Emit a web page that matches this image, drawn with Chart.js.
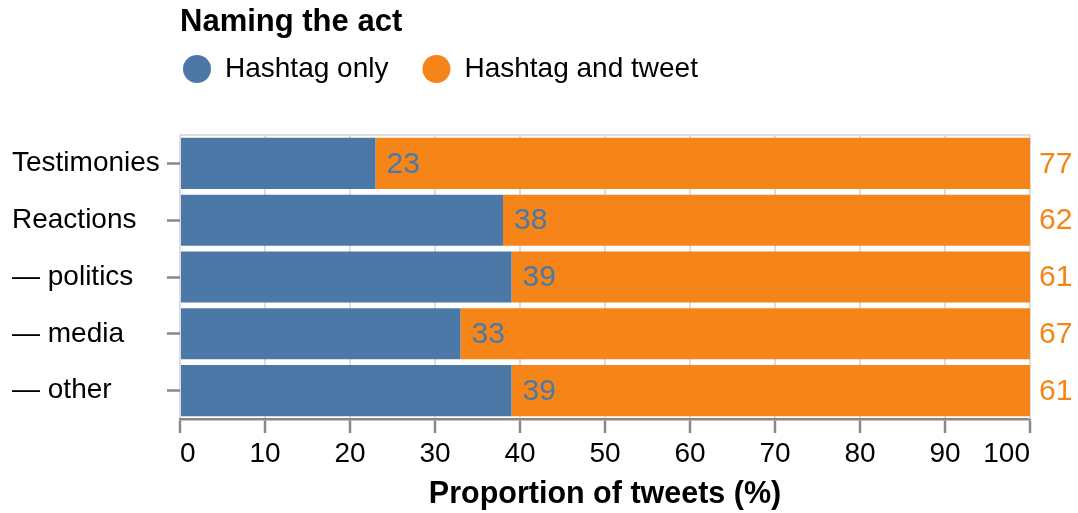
<!DOCTYPE html>
<html>
<head>
<meta charset="utf-8">
<title>Naming the act</title>
<script src="https://cdn.jsdelivr.net/npm/chart.js@4"></script>
<style>
  body { margin: 0; background: #fff; }
</style>
</head>
<body>
<canvas id="grafica" width="1078" height="513"></canvas>
<script>
// datos de la grafica
var categorias = ['Testimonies', 'Reactions', '\u2014 politics', '\u2014 media', '\u2014 other'];
var hashtagOnly = [23, 38, 39, 33, 39];
var hashtagAndTweet = [77, 62, 61, 67, 61];
var series = ['Hashtag only', 'Hashtag and tweet'];
var colores = ['#4c78a8', '#f58518'];
var tituloLeyenda = 'Naming the act';
var tituloEjeX = 'Proportion of tweets (%)';

var fuente = '"Liberation Sans", Arial, Helvetica, sans-serif';

// leyenda y etiquetas dibujadas a mano
var extras = {
  id: 'extras',
  beforeDatasetsDraw: function(chart) {
    var ctx = chart.ctx, a = chart.chartArea;
    ctx.save();
    ctx.strokeStyle = '#dddddd';
    ctx.lineWidth = 2;
    ctx.beginPath();
    ctx.moveTo(a.left, a.top);
    ctx.lineTo(a.right, a.top);
    ctx.lineTo(a.right, a.bottom);
    ctx.stroke();
    ctx.restore();
  },
  afterDatasetsDraw: function(chart) {
    var ctx = chart.ctx, a = chart.chartArea;
    ctx.save();
    ctx.font = '30px ' + fuente;
    ctx.textBaseline = 'middle';
    ctx.textAlign = 'left';
    chart.data.datasets.forEach(function(ds, d) {
      var meta = chart.getDatasetMeta(d);
      meta.data.forEach(function(bar, i) {
        ctx.fillStyle = ds.backgroundColor;
        var x = d === 0 ? bar.x + 11 : a.right + 9;
        ctx.fillText(String(ds.data[i]), x, bar.y + 1);
      });
    });
    ctx.restore();
  },
  afterDraw: function(chart) {
    var ctx = chart.ctx;
    ctx.save();
    ctx.fillStyle = '#000';
    ctx.textBaseline = 'middle';
    ctx.textAlign = 'left';
    ctx.font = 'bold 31px ' + fuente;
    ctx.fillText(tituloLeyenda, 180, 22);
    ctx.font = '28px ' + fuente;
    var x = 183;
    chart.data.datasets.forEach(function(ds) {
      ctx.fillStyle = ds.backgroundColor;
      ctx.beginPath();
      ctx.arc(x + 14, 69, 14, 0, Math.PI * 2);
      ctx.fill();
      ctx.fillStyle = '#000';
      ctx.fillText(ds.label, x + 42, 69);
      x += 42 + ctx.measureText(ds.label).width + 34;
    });
    ctx.restore();
  }
};

var grafica = document.getElementById('grafica');
var chart = new Chart(grafica, {
  type: 'bar',
  data: {
    labels: categorias,
    datasets: [
      { label: series[0], data: hashtagOnly, backgroundColor: colores[0] },
      { label: series[1], data: hashtagAndTweet, backgroundColor: colores[1] }
    ]
  },
  options: {
    indexAxis: 'y',
    responsive: false,
    animation: false,
    devicePixelRatio: 1,
    categoryPercentage: 1,
    barPercentage: 0.9,
    layout: { padding: { left: 12, top: 135, right: 48, bottom: 0 } },
    plugins: {
      legend: { display: false },
      tooltip: { enabled: false }
    },
    scales: {
      x: {
        stacked: true,
        min: 0,
        max: 100,
        ticks: {
          stepSize: 10,
          align: 'inner',
          padding: 4,
          color: '#000',
          font: { family: fuente, size: 28 }
        },
        grid: {
          color: '#dddddd',
          lineWidth: 2,
          tickColor: '#888888',
          tickWidth: 2.5,
          tickLength: 14
        },
        border: { color: '#888888', width: 2.5 },
        title: {
          display: true,
          text: tituloEjeX,
          color: '#000',
          font: { family: fuente, size: 30.5, weight: 'bold' },
          padding: { top: 0, bottom: 0 }
        },
        afterFit: function(scale) { scale.height = 94; }
      },
      y: {
        stacked: true,
        ticks: {
          crossAlign: 'far',
          color: '#000',
          font: { family: fuente, size: 28 }
        },
        grid: {
          offset: false,
          drawOnChartArea: false,
          tickColor: '#888888',
          tickWidth: 2.5,
          tickLength: 13
        },
        border: { display: false },
        afterFit: function(scale) { scale.width = 168; }
      }
    }
  },
  plugins: [extras]
});
</script>
</body>
</html>
